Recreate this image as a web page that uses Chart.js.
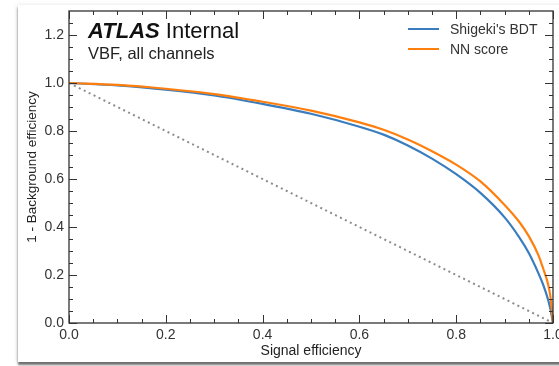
<!DOCTYPE html>
<html>
<head>
<meta charset="utf-8">
<script src="https://cdn.jsdelivr.net/npm/chart.js@4.4.0/dist/chart.umd.min.js"></script>
<style>
    html, body { margin: 0; padding: 0; background: #ffffff; }
    #wrap { position: relative; width: 559px; height: 366px; overflow: hidden; }
    #panel {
        position: absolute; left: 18px; top: 5px; width: 560px; height: 357px;
        background: #ffffff;
        box-shadow: 0 3px 2px rgba(0, 0, 0, 0.55), -1px 0 4px rgba(0, 0, 0, 0.12);
    }
    #roc { position: absolute; left: 0; top: 0; }
</style>
</head>
<body>
<div id="wrap">
    <div id="panel"></div>
    <canvas id="roc" width="559" height="366"></canvas>
</div>
<script>
// ROC curves: signal efficiency vs 1 - background efficiency
const sigEff = [0, 0.1, 0.2, 0.3, 0.4, 0.5, 0.6, 0.65, 0.7, 0.75, 0.8, 0.85, 0.9, 0.93, 0.95, 0.97, 0.98, 0.99, 0.995, 1.0];
const bdtRej = [1.0, 0.99, 0.972, 0.948, 0.913, 0.872, 0.818, 0.785, 0.74, 0.685, 0.62, 0.542, 0.44, 0.358, 0.292, 0.207, 0.158, 0.096, 0.055, 0.0];
const nnRej  = [1.0, 0.992, 0.976, 0.954, 0.922, 0.885, 0.836, 0.805, 0.765, 0.716, 0.66, 0.59, 0.492, 0.422, 0.362, 0.282, 0.225, 0.16, 0.105, 0.0];
const randomEff = [0, 1];
const randomRej = [1, 0];

const seriesLabels = ["Shigeki's BDT", 'NN score'];
const seriesColors = ['#3a7dbf', '#ff7f0e'];
const xTicks = [0, 0.2, 0.4, 0.6, 0.8, 1.0];
const yTicks = [0, 0.2, 0.4, 0.6, 0.8, 1.0, 1.2];

const FONT = "'Liberation Sans', Arial, sans-serif";
const AXIS_COLOR = '#333333';

function toPoints(xs, ys) {
    return xs.map((x, i) => ({ x: x, y: ys[i] }));
}

// Inward ticks on all four sides, plus the closed frame, ATLAS label and legend
const atlasStyle = {
    id: 'atlasStyle',
    afterDraw(chart) {
        const ctx = chart.ctx;
        const area = chart.chartArea;
        const xs = chart.scales.x;
        const ys = chart.scales.y;
        ctx.save();
        ctx.strokeStyle = AXIS_COLOR;
        ctx.lineWidth = 1.3;
        ctx.strokeRect(area.left, area.top, area.right - area.left, area.bottom - area.top);

        ctx.lineWidth = 1;
        ctx.beginPath();
        for (let v = 0; v <= 1.0001; v += 0.05) {
            const major = Math.abs(v * 5 - Math.round(v * 5)) < 1e-6;
            const len = major ? 8 : 4;
            const px = Math.round(xs.getPixelForValue(v)) + 0.5;
            ctx.moveTo(px, area.bottom); ctx.lineTo(px, area.bottom - len);
            ctx.moveTo(px, area.top); ctx.lineTo(px, area.top + len);
        }
        for (let v = 0; v <= 1.3; v += 0.05) {
            const major = Math.abs(v * 5 - Math.round(v * 5)) < 1e-6;
            const len = major ? 8 : 4;
            const py = Math.round(ys.getPixelForValue(v)) + 0.5;
            ctx.moveTo(area.left, py); ctx.lineTo(area.left + len, py);
            ctx.moveTo(area.right, py); ctx.lineTo(area.right - len, py);
        }
        ctx.stroke();

        // ATLAS label
        ctx.fillStyle = '#111111';
        ctx.textBaseline = 'alphabetic';
        ctx.font = 'italic bold 22px ' + FONT;
        ctx.fillText('ATLAS', 88, 38);
        const w = ctx.measureText('ATLAS ').width;
        ctx.font = '22px ' + FONT;
        ctx.fillText('Internal', 88 + w, 38);
        ctx.font = '16.5px ' + FONT;
        ctx.fillStyle = '#222222';
        ctx.fillText('VBF, all channels', 88, 59);

        // legend
        ctx.font = '14px ' + FONT;
        ctx.textBaseline = 'middle';
        seriesLabels.forEach((lab, i) => {
            const y = 29 + i * 20;
            ctx.strokeStyle = seriesColors[i];
            ctx.lineWidth = 2;
            ctx.beginPath();
            ctx.moveTo(408, y); ctx.lineTo(439, y);
            ctx.stroke();
            ctx.fillStyle = '#333333';
            ctx.fillText(lab, 450, y + 1);
        });
        ctx.restore();
    }
};

const ctx = document.getElementById('roc').getContext('2d');
new Chart(ctx, {
    type: 'scatter',
    data: {
        datasets: [
            {
                label: 'random',
                data: toPoints(randomEff, randomRej),
                showLine: true,
                borderColor: '#8c8c8c',
                borderWidth: 2,
                borderDash: [2, 3.5],
                pointRadius: 0,
                order: 3
            },
            {
                label: seriesLabels[0],
                data: toPoints(sigEff, bdtRej),
                showLine: true,
                borderColor: seriesColors[0],
                borderWidth: 2.2,
                pointRadius: 0,
                cubicInterpolationMode: 'monotone',
                order: 2
            },
            {
                label: seriesLabels[1],
                data: toPoints(sigEff, nnRej),
                showLine: true,
                borderColor: seriesColors[1],
                borderWidth: 2.2,
                pointRadius: 0,
                cubicInterpolationMode: 'monotone',
                order: 1
            }
        ]
    },
    options: {
        responsive: false,
        animation: false,
        layout: { padding: { left: 18, top: 11, right: 6, bottom: 4 } },
        plugins: {
            legend: { display: false },
            tooltip: { enabled: false }
        },
        scales: {
            x: {
                type: 'linear',
                min: 0,
                max: 1,
                afterFit(scale) { scale.height = 39; scale.paddingLeft = 0; scale.paddingRight = 0; },
                afterBuildTicks(scale) { scale.ticks = xTicks.map(v => ({ value: v })); },
                grid: { display: false, drawTicks: false },
                border: { display: false },
                ticks: {
                    padding: 4,
                    color: '#333333',
                    font: { family: FONT, size: 14 },
                    maxRotation: 0,
                    callback: v => v.toFixed(1)
                },
                title: {
                    display: true,
                    text: 'Signal efficiency',
                    color: '#222222',
                    font: { family: FONT, size: 14 },
                    padding: { top: 0, bottom: 2 }
                }
            },
            y: {
                type: 'linear',
                min: 0,
                max: 1.3,
                afterFit(scale) { scale.width = 51; scale.paddingTop = 0; scale.paddingBottom = 0; },
                afterBuildTicks(scale) { scale.ticks = yTicks.map(v => ({ value: v })); },
                grid: { display: false, drawTicks: false },
                border: { display: false },
                ticks: {
                    padding: 5,
                    color: '#333333',
                    font: { family: FONT, size: 14 },
                    callback: v => v.toFixed(1)
                },
                title: {
                    display: true,
                    text: '1 - Background efficiency',
                    color: '#222222',
                    font: { family: FONT, size: 13.5 },
                    padding: { top: 6, bottom: 0 }
                }
            }
        }
    },
    plugins: [atlasStyle]
});
</script>
</body>
</html>
